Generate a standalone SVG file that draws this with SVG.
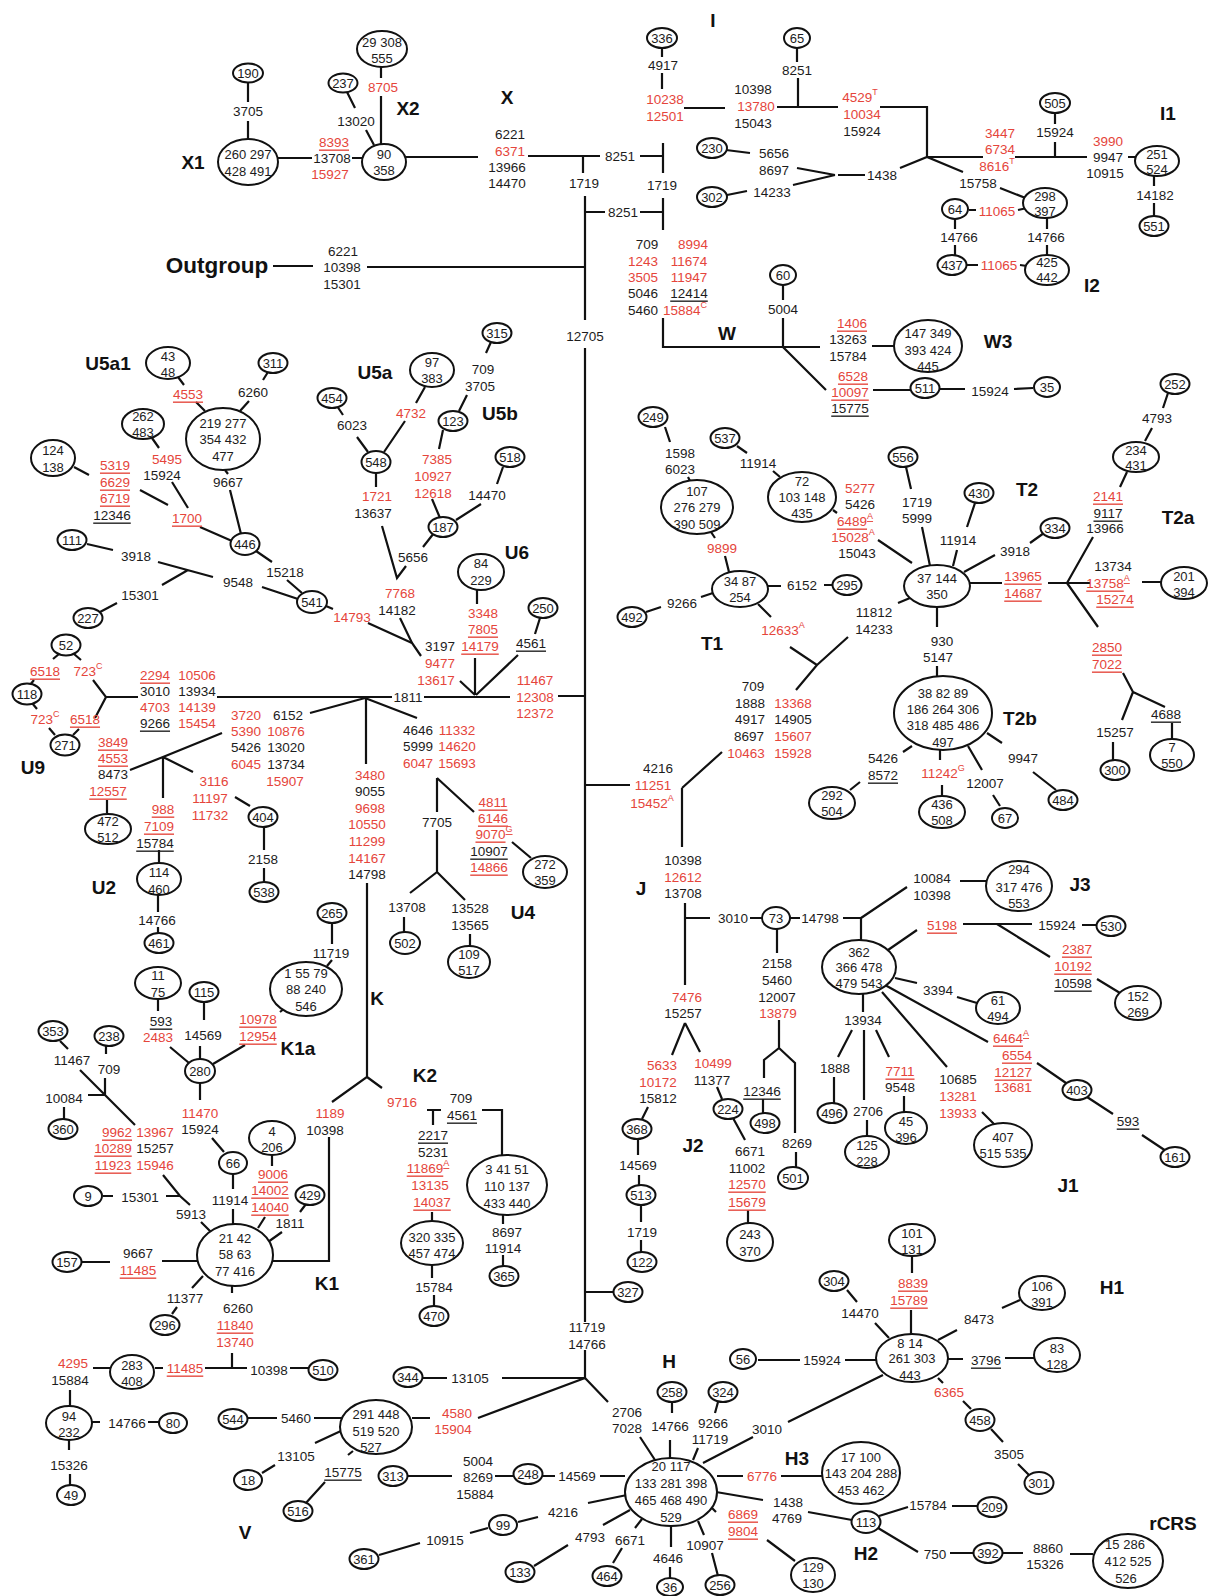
<svg xmlns="http://www.w3.org/2000/svg" width="1209" height="1596" viewBox="0 0 1209 1596">
<style>
text{font-family:"Liberation Sans",Arial,sans-serif;font-size:13.5px;fill:#1c1c1c;text-anchor:middle;dominant-baseline:central}
.r{fill:#e5453b}
.u{text-decoration:underline}
.s{font-size:9px}
.g{font-weight:bold;font-size:19px;fill:#111}
.n ellipse{fill:#fff;stroke:#111;stroke-width:2}
.n text{font-size:13px}
#connectors path{fill:none;stroke:#111;stroke-width:2.2}
</style>
<rect width="1209" height="1596" fill="#fff"/>
<g id="connectors">
<path d="M248 82L248 102M248 121L248 139M278 158L312 158M352 158L362 158M381 66L381 78M381 96L381 144M347 92L355 108M366 130L374 145M406 157L478 157M528 156L600 156M583 156L583 173M640 156L662 156M663 143L663 173M585 196L585 320M585 348L585 1322M585 1350L585 1378M585 212L605 212M640 212L662 212M663 198L663 230M273 266L313 266M367 267L585 267"/>
<path d="M662 48L662 57M662 73L662 89M684 108L725 108M777 107L838 107M797 48L797 62M798 78L798 107M880 107L927 107L927 157L983 157M1015 157L1087 157M1055 157L1055 142M1055 113L1055 124M1128 157L1135 157M1154 176L1154 186M1154 203L1154 216M900 168L927 157L963 172M838 175L865 175M797 168L835 175M793 185L835 175M726 150L750 153M727 195L747 191M1000 188L1028 199M969 210L976 210M1018 210L1027 208M955 219L955 229M955 245L955 256M1047 218L1047 229M1047 245L1047 255M966 265L978 265M1020 265L1027 266"/>
<path d="M663 318L663 347L820 347M783 285L783 300M783 318L783 347L826 390M872 346L895 346M873 390L911 390M940 389L965 389M1014 389L1033 388"/>
<path d="M178 377L184 385M196 402L205 411M268 372L263 380M249 401L240 411M152 438L159 448M172 482L188 508M74 467L89 475M140 490L168 505M200 527L232 541M225 470L228 474M230 490L241 534M256 551L272 562M287 580L302 593M87 544L113 550M158 562L213 577M188 570L162 585M262 587L298 599M117 603L100 612M326 606L333 609M368 623L412 643"/>
<path d="M337 406L343 415M357 437L368 452M425 387L416 403M405 421L384 452M376 473L376 487M382 526L397 578L406 566M423 547L434 533M400 618L412 643L421 656M460 681L475 695M491 342L486 353M467 395L459 411M443 430L439 449M432 499L440 518M456 520L481 504M497 484L503 467M477 590L477 604M475 658L475 695M540 618L535 634M518 655L476 695M217 697L392 697M424 697L510 697M558 696L585 696"/>
<path d="M59 654L53 659M74 654L81 660M34 680L30 685M32 703L37 709M49 728L55 735M79 729L73 735M93 680L106 697L95 718M106 697L138 697M365 698L310 713M366 698L366 764M365 698L417 718M222 733L163 757L130 770M163 757L163 798M163 757L193 772M107 800L107 813M159 850L159 863M158 895L158 912M158 927L158 934M235 797L250 806M264 827L264 850M264 868L264 882M367 883L367 1077L332 1102M367 1077L382 1088"/>
<path d="M437 778L437 812M437 778L474 812M437 830L437 872L410 893M437 872L465 900M404 917L404 932M470 934L470 946M512 842L531 858"/>
<path d="M585 785L630 785M682 788L722 752M682 788L682 847M796 690L817 665L790 647M817 665L848 637M665 427L670 442M688 477L690 481M711 532L715 538M725 556L729 572M713 593L701 597M661 607L646 612M768 586L781 586M824 585L832 585M758 604L771 617M737 446L747 453M773 471L780 477M833 510L837 513M906 467L911 489M922 527L930 566M975 503L967 527M957 550L953 566M1044 533L1030 543M995 555L964 572M878 540L912 563M910 598L898 603M937 607L937 627M937 666L937 677M970 583L1002 583M1048 583L1090 583M1142 582L1161 582M1067 583L1093 537M1127 472L1120 487M1152 428L1145 441M1168 393L1163 408M1067 583L1098 627M1123 673L1133 692L1122 720M1133 692L1165 707M1172 723L1172 739M1113 742L1113 760M912 746L903 752M860 782L850 790M940 750L940 760M942 785L942 796M968 746L982 770M993 795L1000 806M987 733L1002 743M1033 772L1056 790"/>
<path d="M332 922L332 944M332 960L327 966M285 1008L280 1012M245 1045L213 1064M158 999L158 1011M170 1047L189 1063M204 1001L204 1020M200 1046L200 1059M200 1083L200 1100M212 1138L224 1152M60 1041L68 1049M106 1046L106 1054M80 1070L135 1125M105 1078L105 1095M88 1095L105 1095M64 1107L64 1119M163 1175L180 1196L190 1205M103 1196L113 1196M166 1196L180 1196M201 1222L211 1232M233 1174L233 1189M233 1209L233 1224M272 1155L272 1166M265 1217L258 1228M306 1204L300 1212M282 1232L268 1242M273 1261L329 1261L329 1137M82 1262L110 1262M162 1261L197 1261M203 1276L192 1288M177 1307L172 1314M232 1286L232 1293M232 1353L232 1368M205 1368L247 1368M290 1368L309 1368M155 1368L163 1368M93 1368L110 1368M70 1390L70 1406M92 1422L100 1422M148 1422L159 1422M69 1440L69 1450M70 1474L70 1485"/>
<path d="M427 1110L441 1110M433 1110L433 1125M482 1110L502 1110L502 1156M432 1212L432 1221M432 1265L432 1278M434 1295L434 1306M503 1215L503 1224M503 1255L503 1267"/>
<path d="M685 903L685 985M685 918L710 918M750 918L762 918M790 918L800 918M843 918L861 918L861 940M861 918L907 887M960 881L986 881M888 950L917 930M963 924L1032 924M1082 925L1097 925M997 924L1050 957M1097 979L1120 993M895 978L917 983M957 997L977 1003M885 985L988 1042M1037 1063L1066 1083M1087 1097L1113 1114M1142 1135L1166 1151M882 992L947 1067M982 1112L995 1125M863 994L863 1012M852 1030L838 1057M864 1030L864 1100M876 1030L889 1057M834 1077L834 1103M867 1120L867 1136M904 1096L904 1112M685 1023L672 1055M685 1023L700 1052M717 1087L722 1099M733 1118L745 1140M748 1210L748 1223M648 1107L642 1119M638 1140L638 1155M639 1175L639 1186M641 1205L641 1222M641 1240L641 1252M777 929L777 953M779 1020L779 1048L764 1060L764 1078M779 1048L795 1063L795 1133M763 1099L763 1113M796 1152L796 1168M585 1292L613 1292"/>
<path d="M585 1378L502 1378M447 1378L423 1378M585 1378L478 1418M430 1418L412 1418M585 1378L608 1402M640 1437L655 1460M672 1402L672 1413M670 1440L670 1458M718 1402L715 1413M698 1448L693 1460M753 1437L703 1463M788 1422L883 1375M758 1360L800 1360M845 1360L877 1360M717 1476L743 1476M781 1476L822 1476M716 1492L763 1500M808 1512L852 1520M879 1516L908 1507M952 1506L978 1506M878 1528L918 1552M950 1553L974 1553M1003 1553L1023 1553M1070 1554L1093 1554M912 1256L912 1273M911 1310L911 1334M847 1290L857 1302M875 1323L889 1338M1020 1300L1002 1308M957 1330L938 1340M948 1359L963 1359M1005 1358L1034 1358M938 1378L943 1383M963 1401L971 1409M991 1429L1003 1442M1018 1464L1030 1476M712 1508L716 1512M767 1540L795 1561M630 1510L603 1525M568 1545L534 1566M642 1519L635 1528M622 1548L613 1563M671 1526L671 1547M670 1567L670 1578M698 1521L704 1535M712 1553L718 1576M600 1476L625 1476M555 1476L542 1476M513 1476L495 1476M452 1476L408 1476M588 1503L627 1495M538 1517L518 1522M488 1528L470 1533M420 1543L379 1555M248 1418L277 1418M314 1418L343 1418M343 1430L315 1443M275 1465L262 1473M353 1451L348 1455M325 1482L305 1504"/>
</g>
<g id="labels">
<text class="g" x="193" y="162">X1</text><text class="g" x="408" y="108">X2</text><text class="g" x="507" y="97">X</text><text class="g" x="713" y="20">I</text><text class="g" x="1168" y="113">I1</text><text class="g" x="1092" y="285">I2</text><text class="g" x="217" y="265" style="font-size:22.5px">Outgroup</text><text class="g" x="727" y="333">W</text><text class="g" x="998" y="341">W3</text><text class="g" x="108" y="363">U5a1</text><text class="g" x="375" y="372">U5a</text><text class="g" x="500" y="413">U5b</text><text class="g" x="517" y="552">U6</text><text class="g" x="712" y="643">T1</text><text class="g" x="1027" y="489">T2</text><text class="g" x="1178" y="517">T2a</text><text class="g" x="1020" y="718">T2b</text><text class="g" x="33" y="767">U9</text><text class="g" x="104" y="887">U2</text><text class="g" x="523" y="912">U4</text><text class="g" x="377" y="998">K</text><text class="g" x="298" y="1048">K1a</text><text class="g" x="425" y="1075">K2</text><text class="g" x="327" y="1283">K1</text><text class="g" x="641" y="888">J</text><text class="g" x="1080" y="884">J3</text><text class="g" x="693" y="1145">J2</text><text class="g" x="1068" y="1185">J1</text><text class="g" x="245" y="1532">V</text><text class="g" x="669" y="1361">H</text><text class="g" x="1112" y="1287">H1</text><text class="g" x="797" y="1458">H3</text><text class="g" x="866" y="1553">H2</text><text class="g" x="1173" y="1523">rCRS</text>
</g>
<g id="mutations">
<text x="248" y="111">3705</text><text x="356" y="121">13020</text><text class="r" x="383" y="87">8705</text><text class="r u" x="334" y="142">8393</text><text x="332" y="158">13708</text><text class="r" x="330" y="174">15927</text>
<text x="510" y="134">6221</text><text class="r" x="510" y="151">6371</text><text x="507" y="167">13966</text><text x="507" y="183">14470</text>
<text x="584" y="183">1719</text><text x="620" y="156">8251</text><text x="662" y="185">1719</text><text x="623" y="212">8251</text>
<text x="343" y="251">6221</text><text x="342" y="267">10398</text><text x="342" y="284">15301</text><text x="585" y="336">12705</text>
<text x="663" y="65">4917</text><text class="r" x="665" y="99">10238</text><text class="r" x="665" y="116">12501</text>
<text x="753" y="89">10398</text><text class="r" x="756" y="106">13780</text><text x="753" y="123">15043</text><text x="797" y="70">8251</text>
<text class="r" x="860" y="97">4529<tspan class="s" dy="-5">T</tspan></text><text class="r" x="862" y="114">10034</text><text x="862" y="131">15924</text>
<text class="r" x="1000" y="133">3447</text><text class="r" x="1000" y="149">6734</text><text class="r" x="997" y="166">8616<tspan class="s" dy="-5">T</tspan></text>
<text x="1055" y="132">15924</text><text class="r" x="1108" y="141">3990</text><text x="1108" y="157">9947</text><text x="1105" y="173">10915</text><text x="1155" y="195">14182</text>
<text x="882" y="175">1438</text><text x="774" y="153">5656</text><text x="774" y="170">8697</text><text x="772" y="192">14233</text><text x="978" y="183">15758</text>
<text class="r" x="997" y="211">11065</text><text x="959" y="237">14766</text><text x="1046" y="237">14766</text><text class="r" x="999" y="265">11065</text>
<text x="647" y="244">709</text><text class="r" x="643" y="261">1243</text><text class="r" x="643" y="277">3505</text><text x="643" y="293">5046</text><text x="643" y="310">5460</text>
<text class="r" x="693" y="244">8994</text><text class="r" x="689" y="261">11674</text><text class="r" x="689" y="277">11947</text><text class="u" x="689" y="293">12414</text><text class="r" x="685" y="310">15884<tspan class="s" dy="-5">C</tspan></text>
<text x="783" y="309">5004</text><text class="r u" x="852" y="323">1406</text><text x="848" y="339">13263</text><text x="848" y="356">15784</text>
<text class="r u" x="853" y="376">6528</text><text class="r u" x="850" y="392">10097</text><text class="u" x="850" y="408">15775</text><text x="990" y="391">15924</text>
<text class="r u" x="188" y="394">4553</text><text x="253" y="392">6260</text><text class="r" x="167" y="459">5495</text><text x="162" y="475">15924</text><text class="r u" x="187" y="518">1700</text>
<text class="r u" x="115" y="465">5319</text><text class="r u" x="115" y="482">6629</text><text class="r u" x="115" y="498">6719</text><text class="u" x="112" y="515">12346</text>
<text x="228" y="482">9667</text><text x="285" y="572">15218</text><text x="136" y="556">3918</text><text x="238" y="582">9548</text><text x="140" y="595">15301</text><text class="r" x="352" y="617">14793</text>
<text x="352" y="425">6023</text><text class="r" x="411" y="413">4732</text><text class="r" x="377" y="496">1721</text><text x="373" y="513">13637</text>
<text class="r" x="400" y="593">7768</text><text x="397" y="610">14182</text><text x="413" y="557">5656</text>
<text x="483" y="369">709</text><text x="480" y="386">3705</text>
<text class="r" x="437" y="459">7385</text><text class="r" x="433" y="476">10927</text><text class="r" x="433" y="493">12618</text><text x="487" y="495">14470</text>
<text class="r" x="483" y="613">3348</text><text class="r u" x="483" y="629">7805</text><text class="r u" x="480" y="646">14179</text>
<text x="440" y="646">3197</text><text class="r" x="440" y="663">9477</text><text class="r" x="436" y="680">13617</text><text class="u" x="531" y="643">4561</text>
<text x="408" y="697">1811</text><text class="r" x="535" y="680">11467</text><text class="r" x="535" y="697">12308</text><text class="r" x="535" y="713">12372</text>
<text class="r u" x="45" y="671">6518</text><text class="r" x="88" y="671">723<tspan class="s" dy="-5">C</tspan></text><text class="r" x="45" y="719">723<tspan class="s" dy="-5">C</tspan></text><text class="r u" x="85" y="719">6518</text>
<text class="r u" x="155" y="675">2294</text><text x="155" y="691">3010</text><text class="r" x="155" y="707">4703</text><text class="u" x="155" y="723">9266</text>
<text class="r" x="197" y="675">10506</text><text x="197" y="691">13934</text><text class="r" x="197" y="707">14139</text><text class="r" x="197" y="723">15454</text>
<text class="r" x="246" y="715">3720</text><text class="r" x="246" y="731">5390</text><text x="246" y="747">5426</text><text class="r" x="246" y="764">6045</text>
<text x="288" y="715">6152</text><text class="r" x="286" y="731">10876</text><text x="286" y="747">13020</text><text x="286" y="764">13734</text><text class="r" x="285" y="781">15907</text>
<text class="r u" x="113" y="742">3849</text><text class="r u" x="113" y="758">4553</text><text x="113" y="774">8473</text><text class="r u" x="108" y="791">12557</text>
<text class="r" x="214" y="781">3116</text><text class="r" x="210" y="798">11197</text><text class="r" x="210" y="815">11732</text>
<text class="r" x="370" y="775">3480</text><text x="370" y="791">9055</text><text class="r" x="370" y="808">9698</text><text class="r" x="367" y="824">10550</text><text class="r" x="367" y="841">11299</text><text class="r" x="367" y="858">14167</text><text x="367" y="874">14798</text>
<text x="418" y="730">4646</text><text x="418" y="746">5999</text><text class="r" x="418" y="763">6047</text><text class="r" x="457" y="730">11332</text><text class="r" x="457" y="746">14620</text><text class="r" x="457" y="763">15693</text>
<text class="r u" x="163" y="809">988</text><text class="r u" x="159" y="826">7109</text><text class="u" x="155" y="843">15784</text><text x="157" y="920">14766</text><text x="263" y="859">2158</text>
<text class="r u" x="493" y="802">4811</text><text class="r u" x="493" y="818">6146</text><text class="r u" x="494" y="834">9070<tspan class="s" dy="-5">G</tspan></text><text class="u" x="489" y="851">10907</text><text class="r u" x="489" y="867">14866</text>
<text x="437" y="822">7705</text><text x="407" y="907">13708</text><text x="470" y="908">13528</text><text x="470" y="925">13565</text>
<text x="658" y="768">4216</text><text class="r" x="653" y="785">11251</text><text class="r" x="652" y="803">15452<tspan class="s" dy="-5">A</tspan></text>
<text x="753" y="686">709</text><text x="750" y="703">1888</text><text x="750" y="719">4917</text><text x="749" y="736">8697</text><text class="r" x="746" y="753">10463</text>
<text class="r" x="793" y="703">13368</text><text x="793" y="719">14905</text><text class="r" x="793" y="736">15607</text><text class="r" x="793" y="753">15928</text>
<text x="680" y="453">1598</text><text x="680" y="469">6023</text><text class="r" x="722" y="548">9899</text><text x="682" y="603">9266</text><text x="802" y="585">6152</text><text class="r" x="783" y="630">12633<tspan class="s" dy="-5">A</tspan></text>
<text x="758" y="463">11914</text>
<text class="r" x="860" y="488">5277</text><text x="860" y="504">5426</text><text class="r u" x="855" y="521">6489<tspan class="s" dy="-5">A</tspan></text><text class="r" x="853" y="537">15028<tspan class="s" dy="-5">A</tspan></text><text x="857" y="553">15043</text>
<text x="917" y="502">1719</text><text x="917" y="518">5999</text><text x="958" y="540">11914</text><text x="1015" y="551">3918</text>
<text x="874" y="612">11812</text><text x="874" y="629">14233</text><text x="942" y="641">930</text><text x="938" y="657">5147</text>
<text class="r u" x="1023" y="576">13965</text><text class="r u" x="1023" y="593">14687</text><text x="1157" y="418">4793</text>
<text class="r u" x="1108" y="496">2141</text><text class="u" x="1108" y="513">9117</text><text x="1105" y="528">13966</text>
<text x="1113" y="566">13734</text><text class="r u" x="1108" y="583">13758<tspan class="s" dy="-5">A</tspan></text><text class="r u" x="1115" y="599">15274</text>
<text class="r u" x="1107" y="647">2850</text><text class="r u" x="1107" y="664">7022</text><text class="u" x="1166" y="714">4688</text><text x="1115" y="732">15257</text>
<text x="883" y="758">5426</text><text class="u" x="883" y="775">8572</text><text class="r" x="943" y="773">11242<tspan class="s" dy="-5">G</tspan></text><text x="985" y="783">12007</text><text x="1023" y="758">9947</text>
<text x="331" y="953">11719</text><text class="r u" x="258" y="1019">10978</text><text class="r u" x="258" y="1036">12954</text>
<text class="u" x="161" y="1021">593</text><text class="r" x="158" y="1037">2483</text><text x="203" y="1035">14569</text><text class="r" x="200" y="1113">11470</text><text x="200" y="1129">15924</text>
<text x="72" y="1060">11467</text><text x="109" y="1069">709</text><text x="64" y="1098">10084</text>
<text class="r u" x="117" y="1132">9962</text><text class="r u" x="113" y="1148">10289</text><text class="r u" x="113" y="1165">11923</text>
<text class="r" x="155" y="1132">13967</text><text x="155" y="1148">15257</text><text class="r" x="155" y="1165">15946</text>
<text x="140" y="1197">15301</text><text x="191" y="1214">5913</text><text x="230" y="1200">11914</text>
<text class="r u" x="273" y="1174">9006</text><text class="r u" x="270" y="1190">14002</text><text class="r u" x="270" y="1207">14040</text><text x="290" y="1223">1811</text>
<text x="138" y="1253">9667</text><text class="r u" x="138" y="1270">11485</text><text x="185" y="1298">11377</text>
<text x="238" y="1308">6260</text><text class="r u" x="235" y="1325">11840</text><text class="r" x="235" y="1342">13740</text>
<text class="r u" x="185" y="1368">11485</text><text x="269" y="1370">10398</text><text class="r" x="73" y="1363">4295</text><text x="70" y="1380">15884</text>
<text x="127" y="1423">14766</text><text x="69" y="1465">15326</text><text class="r" x="330" y="1113">1189</text><text x="325" y="1130">10398</text><text class="r" x="402" y="1102">9716</text>
<text x="461" y="1098">709</text><text class="u" x="462" y="1115">4561</text><text class="u" x="433" y="1135">2217</text><text x="433" y="1152">5231</text><text class="r u" x="428" y="1168">11869<tspan class="s" dy="-5">A</tspan></text><text class="r" x="430" y="1185">13135</text><text class="r u" x="432" y="1202">14037</text>
<text x="434" y="1287">15784</text><text x="507" y="1232">8697</text><text x="503" y="1248">11914</text>
<text x="296" y="1418">5460</text><text x="296" y="1456">13105</text><text class="u" x="343" y="1472">15775</text>
<text x="683" y="860">10398</text><text class="r" x="683" y="877">12612</text><text x="683" y="893">13708</text><text x="733" y="918">3010</text><text x="820" y="918">14798</text>
<text x="932" y="878">10084</text><text x="932" y="895">10398</text><text class="r u" x="942" y="925">5198</text><text x="1057" y="925">15924</text>
<text class="r u" x="1077" y="949">2387</text><text class="r u" x="1073" y="966">10192</text><text class="u" x="1073" y="983">10598</text><text x="938" y="990">3394</text>
<text class="r u" x="1011" y="1038">6464<tspan class="s" dy="-5">A</tspan></text><text class="r u" x="1017" y="1055">6554</text><text class="r u" x="1013" y="1072">12127</text><text class="r" x="1013" y="1087">13681</text><text class="u" x="1128" y="1121">593</text>
<text x="958" y="1079">10685</text><text class="r" x="958" y="1096">13281</text><text class="r" x="958" y="1113">13933</text>
<text x="863" y="1020">13934</text><text x="835" y="1068">1888</text><text x="868" y="1111">2706</text><text class="r u" x="900" y="1071">7711</text><text x="900" y="1087">9548</text>
<text class="r" x="687" y="997">7476</text><text x="683" y="1013">15257</text><text class="r" x="662" y="1065">5633</text><text class="r" x="658" y="1082">10172</text><text x="658" y="1098">15812</text>
<text class="r" x="713" y="1063">10499</text><text x="712" y="1080">11377</text>
<text x="750" y="1151">6671</text><text x="747" y="1168">11002</text><text class="r u" x="747" y="1184">12570</text><text class="r u" x="747" y="1202">15679</text>
<text x="638" y="1165">14569</text><text x="642" y="1232">1719</text>
<text x="777" y="963">2158</text><text x="777" y="980">5460</text><text x="777" y="997">12007</text><text class="r" x="778" y="1013">13879</text><text class="u" x="762" y="1091">12346</text><text x="797" y="1143">8269</text>
<text x="587" y="1327">11719</text><text x="587" y="1344">14766</text><text x="470" y="1378">13105</text><text class="r" x="457" y="1413">4580</text><text class="r" x="453" y="1429">15904</text>
<text x="627" y="1412">2706</text><text x="627" y="1428">7028</text><text x="670" y="1426">14766</text><text x="713" y="1423">9266</text><text x="710" y="1439">11719</text><text x="767" y="1429">3010</text>
<text x="822" y="1360">15924</text><text class="r" x="762" y="1476">6776</text><text x="788" y="1502">1438</text><text x="787" y="1518">4769</text>
<text x="928" y="1505">15784</text><text x="935" y="1554">750</text><text x="1048" y="1548">8860</text><text x="1045" y="1564">15326</text>
<text class="r u" x="913" y="1283">8839</text><text class="r u" x="909" y="1300">15789</text><text x="860" y="1313">14470</text><text x="979" y="1319">8473</text><text class="u" x="986" y="1360">3796</text>
<text class="r" x="949" y="1392">6365</text><text x="1009" y="1454">3505</text><text class="r u" x="743" y="1514">6869</text><text class="r u" x="743" y="1531">9804</text>
<text x="590" y="1537">4793</text><text x="630" y="1540">6671</text><text x="668" y="1558">4646</text><text x="705" y="1545">10907</text>
<text x="577" y="1476">14569</text><text x="478" y="1461">5004</text><text x="478" y="1477">8269</text><text x="475" y="1494">15884</text><text x="563" y="1512">4216</text><text x="445" y="1540">10915</text>
</g>
<g class="n">
<g id="n190"><ellipse cx="248" cy="73" rx="15" ry="9.5"/><text x="248" y="73">190</text></g>
<g id="nX1"><ellipse cx="248" cy="162" rx="30" ry="23"/><text x="248" y="154">260 297</text><text x="248" y="171">428 491</text></g>
<g id="n29"><ellipse cx="382" cy="49" rx="25" ry="18"/><text x="382" y="42">29 308</text><text x="382" y="58">555</text></g>
<g id="n237"><ellipse cx="343" cy="83" rx="14.5" ry="9.5"/><text x="343" y="83">237</text></g>
<g id="n90"><ellipse cx="384" cy="162" rx="22" ry="18"/><text x="384" y="154">90</text><text x="384" y="170">358</text></g>
<g id="n336"><ellipse cx="662" cy="38" rx="15" ry="10"/><text x="662" y="38">336</text></g>
<g id="n65"><ellipse cx="797" cy="38" rx="13" ry="10"/><text x="797" y="38">65</text></g>
<g id="n230"><ellipse cx="712" cy="148" rx="15" ry="10"/><text x="712" y="148">230</text></g>
<g id="n302"><ellipse cx="712" cy="197" rx="15" ry="10"/><text x="712" y="197">302</text></g>
<g id="n505"><ellipse cx="1055" cy="103" rx="15" ry="10"/><text x="1055" y="103">505</text></g>
<g id="n251"><ellipse cx="1157" cy="161" rx="22" ry="15"/><text x="1157" y="154">251</text><text x="1157" y="169">524</text></g>
<g id="n551"><ellipse cx="1154" cy="226" rx="14.5" ry="10"/><text x="1154" y="226">551</text></g>
<g id="n298"><ellipse cx="1045" cy="203" rx="22" ry="15"/><text x="1045" y="196">298</text><text x="1045" y="211">397</text></g>
<g id="n64"><ellipse cx="955" cy="209" rx="13" ry="10"/><text x="955" y="209">64</text></g>
<g id="n437"><ellipse cx="952" cy="265" rx="14.5" ry="10"/><text x="952" y="265">437</text></g>
<g id="n425"><ellipse cx="1047" cy="270" rx="22" ry="15"/><text x="1047" y="262">425</text><text x="1047" y="277">442</text></g>
<g id="n60"><ellipse cx="783" cy="275" rx="13" ry="10"/><text x="783" y="275">60</text></g>
<g id="nW3"><ellipse cx="928" cy="346" rx="34" ry="26"/><text x="928" y="333">147 349</text><text x="928" y="350">393 424</text><text x="928" y="366">445</text></g>
<g id="n511"><ellipse cx="925" cy="388" rx="14.5" ry="10"/><text x="925" y="388">511</text></g>
<g id="n35"><ellipse cx="1047" cy="387" rx="13" ry="10"/><text x="1047" y="387">35</text></g>
<g id="n252"><ellipse cx="1175" cy="384" rx="14.5" ry="10"/><text x="1175" y="384">252</text></g>
<g id="n43"><ellipse cx="168" cy="363" rx="22" ry="16"/><text x="168" y="356">43</text><text x="168" y="372">48</text></g>
<g id="n311"><ellipse cx="273" cy="363" rx="14.5" ry="10"/><text x="273" y="363">311</text></g>
<g id="n454"><ellipse cx="332" cy="398" rx="14.5" ry="10"/><text x="332" y="398">454</text></g>
<g id="n315"><ellipse cx="497" cy="333" rx="14.5" ry="10"/><text x="497" y="333">315</text></g>
<g id="n97"><ellipse cx="432" cy="370" rx="22" ry="17"/><text x="432" y="362">97</text><text x="432" y="378">383</text></g>
<g id="n219"><ellipse cx="223" cy="439" rx="37" ry="31"/><text x="223" y="423">219 277</text><text x="223" y="439">354 432</text><text x="223" y="456">477</text></g>
<g id="n262"><ellipse cx="143" cy="424" rx="21" ry="15"/><text x="143" y="416">262</text><text x="143" y="432">483</text></g>
<g id="n124"><ellipse cx="53" cy="458" rx="22" ry="18"/><text x="53" y="450">124</text><text x="53" y="467">138</text></g>
<g id="n446"><ellipse cx="245" cy="544" rx="14.5" ry="11"/><text x="245" y="544">446</text></g>
<g id="n548"><ellipse cx="376" cy="462" rx="14.5" ry="11"/><text x="376" y="462">548</text></g>
<g id="n123"><ellipse cx="453" cy="421" rx="14.5" ry="10"/><text x="453" y="421">123</text></g>
<g id="n187"><ellipse cx="443" cy="527" rx="14.5" ry="10"/><text x="443" y="527">187</text></g>
<g id="n518"><ellipse cx="510" cy="457" rx="14.5" ry="10"/><text x="510" y="457">518</text></g>
<g id="n84"><ellipse cx="481" cy="572" rx="23" ry="18"/><text x="481" y="563">84</text><text x="481" y="580">229</text></g>
<g id="n250"><ellipse cx="543" cy="608" rx="14.5" ry="10"/><text x="543" y="608">250</text></g>
<g id="n541"><ellipse cx="312" cy="602" rx="15" ry="11"/><text x="312" y="602">541</text></g>
<g id="n111"><ellipse cx="72" cy="540" rx="14.5" ry="10"/><text x="72" y="540">111</text></g>
<g id="n227"><ellipse cx="88" cy="618" rx="14.5" ry="10"/><text x="88" y="618">227</text></g>
<g id="n52"><ellipse cx="66" cy="645" rx="14.5" ry="10.5"/><text x="66" y="645">52</text></g>
<g id="n118"><ellipse cx="27" cy="694" rx="14.5" ry="10.5"/><text x="27" y="694">118</text></g>
<g id="n271"><ellipse cx="65" cy="745" rx="14.5" ry="10.5"/><text x="65" y="745">271</text></g>
<g id="n472"><ellipse cx="108" cy="829" rx="23" ry="15"/><text x="108" y="821">472</text><text x="108" y="837">512</text></g>
<g id="n114"><ellipse cx="159" cy="879" rx="22" ry="16"/><text x="159" y="872">114</text><text x="159" y="889">460</text></g>
<g id="n461"><ellipse cx="159" cy="943" rx="14.5" ry="10"/><text x="159" y="943">461</text></g>
<g id="n404"><ellipse cx="263" cy="817" rx="14.5" ry="10"/><text x="263" y="817">404</text></g>
<g id="n538"><ellipse cx="264" cy="892" rx="14.5" ry="10"/><text x="264" y="892">538</text></g>
<g id="n272"><ellipse cx="545" cy="872" rx="22" ry="16"/><text x="545" y="864">272</text><text x="545" y="880">359</text></g>
<g id="n502"><ellipse cx="405" cy="943" rx="15" ry="11"/><text x="405" y="943">502</text></g>
<g id="n109"><ellipse cx="469" cy="962" rx="21" ry="16"/><text x="469" y="954">109</text><text x="469" y="970">517</text></g>
<g id="n249"><ellipse cx="653" cy="417" rx="14.5" ry="10"/><text x="653" y="417">249</text></g>
<g id="n107"><ellipse cx="697" cy="507" rx="36" ry="27"/><text x="697" y="491">107</text><text x="697" y="507">276 279</text><text x="697" y="524">390 509</text></g>
<g id="nT1"><ellipse cx="740" cy="589" rx="28" ry="18"/><text x="740" y="581">34  87</text><text x="740" y="597">254</text></g>
<g id="n492"><ellipse cx="632" cy="617" rx="14.5" ry="10"/><text x="632" y="617">492</text></g>
<g id="n295"><ellipse cx="847" cy="585" rx="14.5" ry="10"/><text x="847" y="585">295</text></g>
<g id="n537"><ellipse cx="725" cy="438" rx="14.5" ry="10"/><text x="725" y="438">537</text></g>
<g id="n72"><ellipse cx="802" cy="497" rx="34" ry="25"/><text x="802" y="481">72</text><text x="802" y="497">103 148</text><text x="802" y="513">435</text></g>
<g id="n556"><ellipse cx="903" cy="457" rx="14.5" ry="10"/><text x="903" y="457">556</text></g>
<g id="n430"><ellipse cx="979" cy="493" rx="14.5" ry="10"/><text x="979" y="493">430</text></g>
<g id="n334"><ellipse cx="1055" cy="528" rx="14.5" ry="10"/><text x="1055" y="528">334</text></g>
<g id="nT2"><ellipse cx="937" cy="586" rx="33" ry="21"/><text x="937" y="578">37 144</text><text x="937" y="594">350</text></g>
<g id="n234"><ellipse cx="1136" cy="457" rx="23" ry="15"/><text x="1136" y="450">234</text><text x="1136" y="465">431</text></g>
<g id="n201"><ellipse cx="1184" cy="583" rx="23" ry="16"/><text x="1184" y="576">201</text><text x="1184" y="592">394</text></g>
<g id="n7"><ellipse cx="1172" cy="755" rx="22" ry="16"/><text x="1172" y="747">7</text><text x="1172" y="763">550</text></g>
<g id="n300"><ellipse cx="1115" cy="770" rx="14.5" ry="10"/><text x="1115" y="770">300</text></g>
<g id="nT2b"><ellipse cx="943" cy="713" rx="49" ry="37"/><text x="943" y="693">38 82 89</text><text x="943" y="709">186  264 306</text><text x="943" y="725">318 485 486</text><text x="943" y="742">497</text></g>
<g id="n292"><ellipse cx="832" cy="803" rx="23" ry="16"/><text x="832" y="795">292</text><text x="832" y="811">504</text></g>
<g id="n436"><ellipse cx="942" cy="812" rx="23" ry="16"/><text x="942" y="804">436</text><text x="942" y="820">508</text></g>
<g id="n67"><ellipse cx="1005" cy="818" rx="13" ry="10"/><text x="1005" y="818">67</text></g>
<g id="n484"><ellipse cx="1063" cy="800" rx="14.5" ry="10"/><text x="1063" y="800">484</text></g>
<g id="n265"><ellipse cx="332" cy="913" rx="14.5" ry="10"/><text x="332" y="913">265</text></g>
<g id="n1"><ellipse cx="306" cy="989" rx="36" ry="27"/><text x="306" y="973">1 55 79</text><text x="306" y="989">88 240</text><text x="306" y="1006">546</text></g>
<g id="n11"><ellipse cx="158" cy="983" rx="23" ry="16"/><text x="158" y="975">11</text><text x="158" y="992">75</text></g>
<g id="n115"><ellipse cx="204" cy="992" rx="14.5" ry="10"/><text x="204" y="992">115</text></g>
<g id="n280"><ellipse cx="200" cy="1071" rx="15" ry="12"/><text x="200" y="1071">280</text></g>
<g id="n353"><ellipse cx="53" cy="1031" rx="14.5" ry="10"/><text x="53" y="1031">353</text></g>
<g id="n238"><ellipse cx="109" cy="1036" rx="14.5" ry="10"/><text x="109" y="1036">238</text></g>
<g id="n360"><ellipse cx="63" cy="1129" rx="14.5" ry="10"/><text x="63" y="1129">360</text></g>
<g id="n66"><ellipse cx="233" cy="1163" rx="14" ry="11"/><text x="233" y="1163">66</text></g>
<g id="n4"><ellipse cx="272" cy="1138" rx="23" ry="17"/><text x="272" y="1131">4</text><text x="272" y="1147">206</text></g>
<g id="n9"><ellipse cx="88" cy="1196" rx="14" ry="10"/><text x="88" y="1196">9</text></g>
<g id="n429"><ellipse cx="310" cy="1195" rx="14.5" ry="10"/><text x="310" y="1195">429</text></g>
<g id="nK1"><ellipse cx="235" cy="1255" rx="38" ry="31"/><text x="235" y="1238">21 42</text><text x="235" y="1254">58 63</text><text x="235" y="1271">77  416</text></g>
<g id="n157"><ellipse cx="67" cy="1262" rx="14.5" ry="10"/><text x="67" y="1262">157</text></g>
<g id="n296"><ellipse cx="165" cy="1325" rx="14.5" ry="10"/><text x="165" y="1325">296</text></g>
<g id="n510"><ellipse cx="323" cy="1370" rx="14.5" ry="10"/><text x="323" y="1370">510</text></g>
<g id="n283"><ellipse cx="132" cy="1372" rx="22" ry="17"/><text x="132" y="1365">283</text><text x="132" y="1381">408</text></g>
<g id="n94"><ellipse cx="69" cy="1423" rx="23" ry="17"/><text x="69" y="1416">94</text><text x="69" y="1432">232</text></g>
<g id="n80"><ellipse cx="173" cy="1423" rx="14" ry="10"/><text x="173" y="1423">80</text></g>
<g id="n49"><ellipse cx="71" cy="1495" rx="14" ry="10"/><text x="71" y="1495">49</text></g>
<g id="n544"><ellipse cx="233" cy="1419" rx="14.5" ry="10"/><text x="233" y="1419">544</text></g>
<g id="nV"><ellipse cx="376" cy="1427" rx="36" ry="27"/><text x="376" y="1414">291 448</text><text x="376" y="1431">519 520</text><text x="371" y="1447">527</text></g>
<g id="n18"><ellipse cx="248" cy="1480" rx="14" ry="10"/><text x="248" y="1480">18</text></g>
<g id="n516"><ellipse cx="298" cy="1511" rx="14.5" ry="10"/><text x="298" y="1511">516</text></g>
<g id="n361"><ellipse cx="364" cy="1559" rx="14.5" ry="10"/><text x="364" y="1559">361</text></g>
<g id="n320"><ellipse cx="432" cy="1243" rx="31" ry="22"/><text x="432" y="1237">320 335</text><text x="432" y="1253">457 474</text></g>
<g id="n470"><ellipse cx="434" cy="1316" rx="14.5" ry="10"/><text x="434" y="1316">470</text></g>
<g id="n3"><ellipse cx="507" cy="1185" rx="40" ry="30"/><text x="507" y="1169">3  41 51</text><text x="507" y="1186">110 137</text><text x="507" y="1203">433 440</text></g>
<g id="n365"><ellipse cx="504" cy="1276" rx="14.5" ry="10"/><text x="504" y="1276">365</text></g>
<g id="n73"><ellipse cx="776" cy="918" rx="14" ry="11"/><text x="776" y="918">73</text></g>
<g id="nJ3"><ellipse cx="1019" cy="886" rx="33" ry="25"/><text x="1019" y="869">294</text><text x="1019" y="887">317 476</text><text x="1019" y="903">553</text></g>
<g id="n530"><ellipse cx="1111" cy="926" rx="14.5" ry="10"/><text x="1111" y="926">530</text></g>
<g id="n362"><ellipse cx="859" cy="967" rx="37" ry="27"/><text x="859" y="952">362</text><text x="859" y="967">366 478</text><text x="859" y="983">479 543</text></g>
<g id="n152"><ellipse cx="1138" cy="1003" rx="23" ry="17"/><text x="1138" y="996">152</text><text x="1138" y="1012">269</text></g>
<g id="n61"><ellipse cx="998" cy="1008" rx="22" ry="16"/><text x="998" y="1000">61</text><text x="998" y="1016">494</text></g>
<g id="n403"><ellipse cx="1077" cy="1090" rx="14.5" ry="10"/><text x="1077" y="1090">403</text></g>
<g id="n161"><ellipse cx="1175" cy="1157" rx="14.5" ry="10"/><text x="1175" y="1157">161</text></g>
<g id="n407"><ellipse cx="1003" cy="1145" rx="29" ry="22"/><text x="1003" y="1137">407</text><text x="1003" y="1153">515 535</text></g>
<g id="n496"><ellipse cx="832" cy="1113" rx="14.5" ry="10"/><text x="832" y="1113">496</text></g>
<g id="n125"><ellipse cx="867" cy="1152" rx="22" ry="16"/><text x="867" y="1145">125</text><text x="867" y="1161">228</text></g>
<g id="n45"><ellipse cx="906" cy="1128" rx="21" ry="16"/><text x="906" y="1121">45</text><text x="906" y="1137">396</text></g>
<g id="n224"><ellipse cx="728" cy="1109" rx="14.5" ry="10"/><text x="728" y="1109">224</text></g>
<g id="n243"><ellipse cx="750" cy="1242" rx="23" ry="19"/><text x="750" y="1234">243</text><text x="750" y="1251">370</text></g>
<g id="n368"><ellipse cx="637" cy="1129" rx="14.5" ry="10"/><text x="637" y="1129">368</text></g>
<g id="n513"><ellipse cx="641" cy="1195" rx="14.5" ry="10"/><text x="641" y="1195">513</text></g>
<g id="n122"><ellipse cx="642" cy="1262" rx="14.5" ry="10"/><text x="642" y="1262">122</text></g>
<g id="n498"><ellipse cx="765" cy="1123" rx="14.5" ry="10"/><text x="765" y="1123">498</text></g>
<g id="n501"><ellipse cx="793" cy="1178" rx="15" ry="11"/><text x="793" y="1178">501</text></g>
<g id="n327"><ellipse cx="628" cy="1292" rx="14.5" ry="10"/><text x="628" y="1292">327</text></g>
<g id="n344"><ellipse cx="408" cy="1377" rx="14.5" ry="10"/><text x="408" y="1377">344</text></g>
<g id="nH"><ellipse cx="671" cy="1492" rx="46" ry="34"/><text x="671" y="1466">20 117</text><text x="671" y="1483">133 281 398</text><text x="671" y="1500">465 468 490</text><text x="671" y="1517">529</text></g>
<g id="n258"><ellipse cx="672" cy="1392" rx="14.5" ry="10"/><text x="672" y="1392">258</text></g>
<g id="n324"><ellipse cx="723" cy="1392" rx="14.5" ry="10"/><text x="723" y="1392">324</text></g>
<g id="n56"><ellipse cx="743" cy="1359" rx="13" ry="10"/><text x="743" y="1359">56</text></g>
<g id="nH3"><ellipse cx="861" cy="1473" rx="39" ry="31"/><text x="861" y="1457">17 100</text><text x="861" y="1473">143 204 288</text><text x="861" y="1490">453 462</text></g>
<g id="n113"><ellipse cx="866" cy="1522" rx="14.5" ry="11"/><text x="866" y="1522">113</text></g>
<g id="n209"><ellipse cx="992" cy="1507" rx="14.5" ry="10"/><text x="992" y="1507">209</text></g>
<g id="n392"><ellipse cx="988" cy="1553" rx="14.5" ry="10"/><text x="988" y="1553">392</text></g>
<g id="nrCRS"><ellipse cx="1128" cy="1561" rx="35" ry="27"/><text x="1125" y="1544">15 286</text><text x="1128" y="1561">412 525</text><text x="1126" y="1578">526</text></g>
<g id="nH1"><ellipse cx="912" cy="1358" rx="36" ry="24"/><text x="910" y="1343">8  14</text><text x="912" y="1358">261 303</text><text x="910" y="1375">443</text></g>
<g id="n101"><ellipse cx="912" cy="1240" rx="23" ry="16"/><text x="912" y="1233">101</text><text x="912" y="1249">131</text></g>
<g id="n304"><ellipse cx="834" cy="1281" rx="14.5" ry="10"/><text x="834" y="1281">304</text></g>
<g id="n106"><ellipse cx="1042" cy="1293" rx="23" ry="17"/><text x="1042" y="1286">106</text><text x="1042" y="1302">391</text></g>
<g id="n83"><ellipse cx="1057" cy="1355" rx="23" ry="17"/><text x="1057" y="1348">83</text><text x="1057" y="1364">128</text></g>
<g id="n458"><ellipse cx="980" cy="1420" rx="14.5" ry="11"/><text x="980" y="1420">458</text></g>
<g id="n301"><ellipse cx="1039" cy="1483" rx="14.5" ry="11"/><text x="1039" y="1483">301</text></g>
<g id="n129"><ellipse cx="813" cy="1575" rx="22" ry="17"/><text x="813" y="1567">129</text><text x="813" y="1583">130</text></g>
<g id="n248"><ellipse cx="528" cy="1474" rx="14.5" ry="10"/><text x="528" y="1474">248</text></g>
<g id="n313"><ellipse cx="393" cy="1476" rx="14.5" ry="10"/><text x="393" y="1476">313</text></g>
<g id="n99"><ellipse cx="503" cy="1525" rx="14" ry="10"/><text x="503" y="1525">99</text></g>
<g id="n133"><ellipse cx="520" cy="1572" rx="14.5" ry="10"/><text x="520" y="1572">133</text></g>
<g id="n464"><ellipse cx="607" cy="1576" rx="14.5" ry="10"/><text x="607" y="1576">464</text></g>
<g id="n36"><ellipse cx="670" cy="1587" rx="13" ry="9"/><text x="670" y="1587">36</text></g>
<g id="n256"><ellipse cx="720" cy="1585" rx="14.5" ry="10"/><text x="720" y="1585">256</text></g>
</g>
</svg>
